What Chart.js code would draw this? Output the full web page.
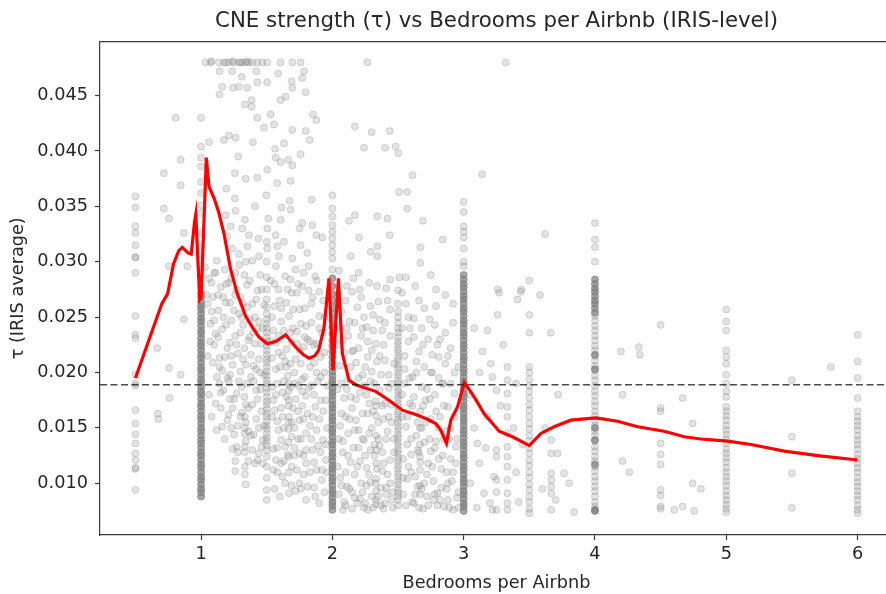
<!DOCTYPE html>
<html>
<head>
<meta charset="utf-8">
<script src="https://cdn.jsdelivr.net/npm/chart.js@4"></script>
<style>
  html, body { margin: 0; padding: 0; background: #fff; overflow: hidden; }
  #wrap { width: 900px; height: 594px; }
  #chartCanvas { filter: blur(0.4px); }
</style>
</head>
<body>
<div id="wrap"><canvas id="chartCanvas" width="900" height="594"></canvas></div>
<script>
// Axis limits and ticks
const X_MIN = 0.23, X_MAX = 6.27;
const Y_MIN = 0.00533, Y_MAX = 0.04988;
const xTickVals = [1, 2, 3, 4, 5, 6];
const yTickVals = [0.010, 0.015, 0.020, 0.025, 0.030, 0.035, 0.040, 0.045];
const tauRef = 0.0189;

// Smoothed (red) curve
const lowessX = [0.500, 0.700, 0.745, 0.790, 0.830, 0.857, 0.900, 0.925, 0.950, 0.960, 0.972, 0.990, 1.000, 1.020, 1.040, 1.060, 1.100, 1.136, 1.175, 1.225, 1.276, 1.339, 1.390, 1.441, 1.505, 1.568, 1.644, 1.720, 1.780, 1.822, 1.865, 1.895, 1.936, 1.974, 2.005, 2.046, 2.076, 2.127, 2.178, 2.250, 2.330, 2.431, 2.533, 2.635, 2.720, 2.787, 2.825, 2.869, 2.902, 2.953, 3.005, 3.080, 3.155, 3.270, 3.372, 3.500, 3.588, 3.689, 3.816, 4.007, 4.172, 4.325, 4.527, 4.680, 4.807, 5.011, 5.188, 5.442, 5.697, 6.000];
const lowessY = [0.0195, 0.0262, 0.0271, 0.0298, 0.0310, 0.0313, 0.0308, 0.0307, 0.0336, 0.0343, 0.0310, 0.0266, 0.0268, 0.0330, 0.0394, 0.0368, 0.0357, 0.0344, 0.0325, 0.0293, 0.0271, 0.0251, 0.0241, 0.0232, 0.0226, 0.0228, 0.0234, 0.0223, 0.0216, 0.0213, 0.0215, 0.0220, 0.0240, 0.0285, 0.0202, 0.0285, 0.0217, 0.0193, 0.0189, 0.0186, 0.0183, 0.0175, 0.0166, 0.0162, 0.0158, 0.0154, 0.0148, 0.0136, 0.0157, 0.0169, 0.0191, 0.0178, 0.0163, 0.0147, 0.0142, 0.0134, 0.0145, 0.0151, 0.0157, 0.0159, 0.0156, 0.0151, 0.0147, 0.0142, 0.0140, 0.0138, 0.0135, 0.0129, 0.0125, 0.0121];

// Dense stacks at whole-bedroom values
const col1Y = [0.0088, 0.0092, 0.0095, 0.0099, 0.0103, 0.0106, 0.0110, 0.0114, 0.0117, 0.0121, 0.0125, 0.0128, 0.0132, 0.0136, 0.0139, 0.0143, 0.0147, 0.0150, 0.0154, 0.0158, 0.0161, 0.0165, 0.0169, 0.0172, 0.0176, 0.0180, 0.0183, 0.0187, 0.0191, 0.0194, 0.0198, 0.0202, 0.0205, 0.0209, 0.0213, 0.0216, 0.0220, 0.0224, 0.0227, 0.0231, 0.0235, 0.0238, 0.0242, 0.0246, 0.0249, 0.0253, 0.0257, 0.0260, 0.0264, 0.0268, 0.0271];
const col2Y = [0.0076, 0.0080, 0.0083, 0.0087, 0.0091, 0.0094, 0.0098, 0.0102, 0.0105, 0.0109, 0.0113, 0.0116, 0.0120, 0.0124, 0.0127, 0.0131, 0.0135, 0.0138, 0.0142, 0.0146, 0.0149, 0.0153, 0.0157, 0.0160, 0.0164, 0.0168, 0.0171, 0.0175, 0.0179, 0.0182, 0.0186, 0.0190, 0.0193, 0.0197, 0.0201, 0.0205, 0.0209, 0.0214, 0.0219, 0.0224, 0.0229, 0.0235, 0.0241, 0.0247, 0.0253, 0.0259, 0.0265, 0.0271, 0.0278, 0.0285];
const col3Y = [0.0075, 0.0079, 0.0082, 0.0086, 0.0090, 0.0093, 0.0097, 0.0101, 0.0104, 0.0108, 0.0112, 0.0115, 0.0119, 0.0123, 0.0126, 0.0130, 0.0134, 0.0137, 0.0141, 0.0145, 0.0148, 0.0152, 0.0156, 0.0159, 0.0163, 0.0167, 0.0170, 0.0174, 0.0178, 0.0181, 0.0185, 0.0189, 0.0192, 0.0196, 0.0200, 0.0203, 0.0207, 0.0211, 0.0214, 0.0218, 0.0222, 0.0225, 0.0229, 0.0233, 0.0236, 0.0240, 0.0244, 0.0247, 0.0251, 0.0255, 0.0258, 0.0262, 0.0266, 0.0269, 0.0273, 0.0277, 0.0280, 0.0284, 0.0288];
const col4Y = [0.0254, 0.0258, 0.0262, 0.0265, 0.0269, 0.0273, 0.0276, 0.0280, 0.0284, 0.0216, 0.0203, 0.0150, 0.0139, 0.0117, 0.0075, 0.0076];

// Lighter stacks
const colHalfY = [0.0359, 0.0349, 0.0332, 0.0326, 0.0315, 0.0304, 0.0304, 0.0290, 0.0251, 0.0234, 0.0231, 0.0198, 0.0190, 0.0188, 0.0166, 0.0154, 0.0144, 0.0136, 0.0127, 0.0121, 0.0114, 0.0113, 0.0094];
const col1TopY = [0.0278, 0.0287, 0.0296, 0.0305, 0.0314, 0.0326, 0.0344, 0.0351, 0.0362, 0.0372, 0.0386, 0.0394, 0.0404, 0.0430];
const col1p5Y = [0.0085, 0.0094, 0.0105, 0.0115, 0.0124, 0.0130, 0.0134, 0.0138, 0.0141, 0.0145, 0.0149, 0.0152, 0.0156, 0.0160, 0.0163, 0.0167, 0.0171, 0.0174, 0.0178, 0.0182, 0.0186, 0.0190, 0.0193, 0.0197, 0.0201, 0.0205, 0.0209, 0.0212, 0.0216, 0.0220, 0.0224, 0.0228, 0.0232, 0.0236, 0.0240, 0.0244, 0.0248, 0.0253, 0.0259, 0.0266, 0.0275, 0.0286, 0.0300, 0.0318];
const col2TopY = [0.0293, 0.0303, 0.0309, 0.0315, 0.0321, 0.0327, 0.0333, 0.0341, 0.0348, 0.0360];
const col2p5Y = [0.0080, 0.0085, 0.0088, 0.0092, 0.0095, 0.0099, 0.0102, 0.0106, 0.0109, 0.0113, 0.0116, 0.0120, 0.0123, 0.0127, 0.0130, 0.0134, 0.0137, 0.0141, 0.0144, 0.0148, 0.0151, 0.0155, 0.0158, 0.0162, 0.0165, 0.0169, 0.0172, 0.0176, 0.0179, 0.0183, 0.0186, 0.0190, 0.0193, 0.0197, 0.0200, 0.0204, 0.0207, 0.0211, 0.0214, 0.0218, 0.0221, 0.0225, 0.0228, 0.0232, 0.0236, 0.0240, 0.0245, 0.0250, 0.0255, 0.0262, 0.0274];
const col3TopY = [0.0296, 0.0300, 0.0312, 0.0322, 0.0327, 0.0332, 0.0345, 0.0354];
const col3p5Y = [0.0073, 0.0077, 0.0083, 0.0088, 0.0094, 0.0099, 0.0105, 0.0110, 0.0116, 0.0121, 0.0127, 0.0132, 0.0138, 0.0143, 0.0149, 0.0154, 0.0160, 0.0166, 0.0171, 0.0177, 0.0183, 0.0188, 0.0194, 0.0200, 0.0205, 0.0236, 0.0252];
const col4MidY = [0.0079, 0.0083, 0.0088, 0.0093, 0.0097, 0.0102, 0.0106, 0.0111, 0.0115, 0.0120, 0.0124, 0.0129, 0.0133, 0.0138, 0.0143, 0.0147, 0.0152, 0.0156, 0.0161, 0.0165, 0.0170, 0.0174, 0.0179, 0.0183, 0.0188, 0.0193, 0.0197, 0.0202, 0.0206, 0.0211, 0.0215, 0.0220, 0.0224, 0.0229, 0.0233, 0.0238, 0.0242, 0.0247, 0.0251, 0.0300, 0.0313, 0.0320, 0.0335];
const col4p5Y = [0.0243, 0.0168, 0.0165, 0.0136, 0.0126, 0.0117, 0.0094, 0.0089, 0.0079, 0.0077];
const col5Y = [0.0257, 0.0246, 0.0238, 0.0220, 0.0214, 0.0208, 0.0198, 0.0190, 0.0183, 0.0178, 0.0169, 0.0165, 0.0161, 0.0157, 0.0152, 0.0148, 0.0144, 0.0140, 0.0136, 0.0131, 0.0127, 0.0123, 0.0119, 0.0114, 0.0110, 0.0106, 0.0102, 0.0098, 0.0093, 0.0089, 0.0085, 0.0081, 0.0077, 0.0074];
const col5p5Y = [0.0193, 0.0142, 0.0109, 0.0078];
const col6Y = [0.0234, 0.0210, 0.0195, 0.0177, 0.0165, 0.0160, 0.0156, 0.0152, 0.0148, 0.0143, 0.0139, 0.0135, 0.0131, 0.0126, 0.0122, 0.0118, 0.0114, 0.0110, 0.0105, 0.0101, 0.0097, 0.0093, 0.0089, 0.0085, 0.0080, 0.0076, 0.0073];
const colThirdsX = [1.333, 1.667, 2.333, 2.667, 3.25, 3.333, 3.667];
const colThirdsY = [
  [0.0160, 0.0150, 0.0145, 0.0133, 0.0128, 0.0115, 0.0108],
  [0.0190, 0.0184, 0.0175, 0.0170, 0.0155, 0.0149, 0.0137, 0.0124],
  [0.0170, 0.0161, 0.0143, 0.0130, 0.0118, 0.0104, 0.0093, 0.0085],
  [0.0150, 0.0135, 0.0124, 0.0112, 0.0098, 0.0090],
  [0.0184, 0.0130, 0.0124, 0.0103, 0.0092, 0.0076],
  [0.0205, 0.0193, 0.0181, 0.0169, 0.0160, 0.0145, 0.0133, 0.0124, 0.0115, 0.0103, 0.0091, 0.0082, 0.0076],
  [0.0139, 0.0127, 0.0109, 0.0103, 0.0097, 0.0091, 0.0076]
];

// Scattered IRIS points [bedrooms, tau]
const cloudPts = [
  [0.666, 0.0222], [0.755, 0.0204], [0.760, 0.0177], [0.671, 0.0163], [0.675, 0.0158], [0.844, 0.0198], [0.869, 0.0248], [0.716, 0.0380], [0.844, 0.0369], [0.806, 0.0430], [0.844, 0.0392], [0.716, 0.0348], [0.755, 0.0339], [0.869, 0.0326], [0.755, 0.0296], [0.895, 0.0296],
  [1.034, 0.0480], [1.072, 0.0480], [1.080, 0.0481], [1.136, 0.0480], [1.174, 0.0480], [1.190, 0.0480], [1.212, 0.0480], [1.240, 0.0481], [1.250, 0.0480], [1.288, 0.0480], [1.300, 0.0480], [1.314, 0.0480], [1.339, 0.0480], [1.350, 0.0481], [1.364, 0.0480], [1.390, 0.0480], [1.428, 0.0480], [1.466, 0.0480], [1.504, 0.0480], [1.606, 0.0480], [1.695, 0.0480], [1.758, 0.0480], [2.266, 0.0480], [3.320, 0.0480],
  [1.141, 0.0472], [1.237, 0.0472], [1.420, 0.0472], [1.588, 0.0470], [1.784, 0.0472], [1.309, 0.0467], [1.428, 0.0462], [1.504, 0.0462], [1.690, 0.0463], [1.771, 0.0466], [1.161, 0.0458], [1.243, 0.0457], [1.288, 0.0458], [1.352, 0.0457], [1.141, 0.0451], [1.695, 0.0457], [1.796, 0.0453], [1.644, 0.0449], [1.606, 0.0446], [1.385, 0.0446], [1.334, 0.0442], [1.385, 0.0440], [1.428, 0.0430], [1.530, 0.0433], [1.555, 0.0424], [1.479, 0.0421], [1.852, 0.0433], [1.878, 0.0428], [1.695, 0.0419], [1.796, 0.0418], [2.172, 0.0422], [2.299, 0.0417], [2.437, 0.0418], [1.212, 0.0414], [1.174, 0.0410], [1.263, 0.0412], [1.060, 0.0408], [1.395, 0.0408], [1.631, 0.0407], [1.827, 0.0410], [1.563, 0.0402], [2.241, 0.0403], [2.401, 0.0403], [2.482, 0.0404], [2.503, 0.0398],
  [1.283, 0.0395], [1.568, 0.0394], [1.606, 0.0390], [1.664, 0.0392], [1.695, 0.0387], [1.758, 0.0397], [1.258, 0.0380], [1.339, 0.0375], [1.428, 0.0376], [1.504, 0.0383], [1.580, 0.0371], [1.682, 0.0373], [1.192, 0.0366], [1.258, 0.0357], [1.497, 0.0360], [1.674, 0.0355], [1.842, 0.0356], [2.508, 0.0363], [1.410, 0.0350], [1.613, 0.0349], [1.263, 0.0346], [1.682, 0.0347], [1.187, 0.0342], [1.334, 0.0338], [1.512, 0.0339], [1.606, 0.0338], [1.771, 0.0335], [1.847, 0.0333], [2.172, 0.0342], [2.342, 0.0341], [2.419, 0.0339], [2.127, 0.0337], [1.225, 0.0332], [1.314, 0.0330], [1.504, 0.0330], [1.751, 0.0330], [1.878, 0.0324], [1.923, 0.0322], [2.203, 0.0322], [2.437, 0.0324], [1.199, 0.0323], [1.364, 0.0324], [1.436, 0.0321], [1.568, 0.0324], [1.631, 0.0318], [1.352, 0.0314], [1.504, 0.0312], [1.580, 0.0314], [1.758, 0.0315], [1.809, 0.0308], [2.342, 0.0314], [2.292, 0.0309], [2.342, 0.0305], [1.237, 0.0312], [1.288, 0.0307], [1.441, 0.0305], [1.593, 0.0305], [1.695, 0.0303],
  [2.570, 0.0363], [2.570, 0.0348], [2.610, 0.0378], [3.140, 0.0379], [2.690, 0.0337], [2.840, 0.0320], [2.670, 0.0313], [2.670, 0.0299], [3.620, 0.0325], [3.500, 0.0283], [2.510, 0.0286], [2.440, 0.0284], [2.790, 0.0275], [3.260, 0.0275], [3.440, 0.0275], [2.140, 0.0305], [2.200, 0.0290],
  [1.13, 0.0232], [1.22, 0.0227], [1.30, 0.0236], [1.16, 0.0202], [1.22, 0.0198], [1.34, 0.0207], [1.40, 0.0192], [1.15, 0.0182], [1.22, 0.0176], [1.34, 0.0171], [1.43, 0.0176], [1.21, 0.0162], [1.34, 0.0155], [1.16, 0.0151], [1.25, 0.0144], [1.40, 0.0144], [1.34, 0.0138], [1.27, 0.0133], [1.44, 0.0127], [1.26, 0.0120], [1.36, 0.0120], [1.26, 0.0111], [1.34, 0.0099], [1.43, 0.0121],
  [1.03, 0.0295], [1.05, 0.0262], [1.07, 0.0228], [1.08, 0.0281], [1.09, 0.0209], [1.10, 0.0247], [1.11, 0.0172], [1.12, 0.0301], [1.14, 0.0190], [1.17, 0.0268], [1.18, 0.0293], [1.19, 0.0243], [1.20, 0.0157], [1.23, 0.0285], [1.24, 0.0131], [1.25, 0.0256], [1.28, 0.0217], [1.29, 0.0297], [1.31, 0.0187], [1.32, 0.0262], [1.33, 0.0288], [1.35, 0.0279], [1.37, 0.0248], [1.38, 0.0196], [1.39, 0.0301], [1.41, 0.0226], [1.42, 0.0266], [1.44, 0.0212], [1.45, 0.0288], [1.46, 0.0165], [1.47, 0.0240], [1.47, 0.0139], [1.29, 0.0253], [1.36, 0.0229], [1.27, 0.0275], [1.41, 0.0250], [1.18, 0.0214], [1.12, 0.0196],
  [1.57, 0.0296], [1.64, 0.0287], [1.72, 0.0293], [1.59, 0.0275], [1.69, 0.0272], [1.77, 0.0278], [1.56, 0.0260], [1.67, 0.0251], [1.75, 0.0257], [1.80, 0.0242], [1.59, 0.0233], [1.69, 0.0227], [1.62, 0.0215], [1.72, 0.0212], [1.57, 0.0203], [1.66, 0.0197], [1.77, 0.0194], [1.62, 0.0182], [1.72, 0.0176], [1.80, 0.0179], [1.56, 0.0166], [1.67, 0.0160], [1.75, 0.0157], [1.59, 0.0148], [1.69, 0.0142], [1.80, 0.0145], [1.64, 0.0133], [1.75, 0.0127], [1.57, 0.0121], [1.69, 0.0115], [1.80, 0.0118], [1.62, 0.0106], [1.75, 0.0100], [1.67, 0.0091], [1.80, 0.0085], [1.55, 0.0238], [1.61, 0.0246], [1.73, 0.0237], [1.78, 0.0223], [1.65, 0.0205], [1.54, 0.0187], [1.74, 0.0165], [1.61, 0.0139], [1.71, 0.0132], [1.78, 0.0108], [1.58, 0.0110], [1.72, 0.0093],
  [1.82, 0.0296], [1.85, 0.0268], [1.88, 0.0283], [1.90, 0.0251], [1.83, 0.0228], [1.92, 0.0236], [1.86, 0.0209], [1.94, 0.0218], [1.84, 0.0188], [1.91, 0.0196], [1.87, 0.0169], [1.95, 0.0175], [1.83, 0.0152], [1.90, 0.0158], [1.93, 0.0139], [1.85, 0.0130], [1.88, 0.0112], [1.95, 0.0121], [1.86, 0.0096], [1.92, 0.0103], [1.90, 0.0082], [1.93, 0.0265], [1.96, 0.0150],
  [2.05, 0.0292], [2.11, 0.0278], [2.16, 0.0285], [2.22, 0.0268], [2.28, 0.0281], [2.35, 0.0264], [2.41, 0.0276], [2.07, 0.0255], [2.13, 0.0246], [2.19, 0.0259], [2.26, 0.0241], [2.31, 0.0252], [2.38, 0.0238], [2.44, 0.0257], [2.08, 0.0229], [2.15, 0.0219], [2.22, 0.0233], [2.27, 0.0214], [2.33, 0.0226], [2.40, 0.0211], [2.06, 0.0206], [2.12, 0.0194], [2.18, 0.0209], [2.24, 0.0188], [2.30, 0.0201], [2.36, 0.0184], [2.43, 0.0198], [2.09, 0.0177], [2.15, 0.0168], [2.21, 0.0182], [2.27, 0.0163], [2.33, 0.0174], [2.39, 0.0158], [2.45, 0.0171], [2.06, 0.0152], [2.12, 0.0145], [2.18, 0.0157], [2.24, 0.0139], [2.30, 0.0150], [2.36, 0.0134], [2.42, 0.0147], [2.08, 0.0128], [2.14, 0.0119], [2.20, 0.0132], [2.26, 0.0114], [2.32, 0.0125], [2.38, 0.0111], [2.44, 0.0121], [2.06, 0.0105], [2.11, 0.0097], [2.17, 0.0108], [2.23, 0.0092], [2.29, 0.0101], [2.35, 0.0088], [2.41, 0.0096], [2.09, 0.0083], [2.15, 0.0077], [2.21, 0.0086], [2.27, 0.0076], [2.33, 0.0081], [2.39, 0.0077], [2.45, 0.0085],
  [2.56, 0.0262], [2.62, 0.0249], [2.70, 0.0258], [2.78, 0.0243], [2.86, 0.0236], [2.58, 0.0228], [2.66, 0.0219], [2.73, 0.0230], [2.81, 0.0214], [2.90, 0.0222], [2.55, 0.0203], [2.61, 0.0196], [2.68, 0.0187], [2.76, 0.0200], [2.84, 0.0190], [2.93, 0.0181], [2.59, 0.0172], [2.67, 0.0165], [2.74, 0.0176], [2.82, 0.0160], [2.88, 0.0169], [2.56, 0.0151], [2.64, 0.0143], [2.71, 0.0155], [2.79, 0.0138], [2.86, 0.0147], [2.94, 0.0133], [2.60, 0.0126], [2.67, 0.0119], [2.75, 0.0129], [2.83, 0.0113], [2.90, 0.0122], [2.57, 0.0104], [2.65, 0.0097], [2.72, 0.0108], [2.80, 0.0091], [2.88, 0.0100], [2.95, 0.0087], [2.62, 0.0082], [2.69, 0.0077], [2.77, 0.0085], [2.85, 0.0079], [2.92, 0.0076], [2.56, 0.0286], [2.63, 0.0278], [2.75, 0.0288], [2.86, 0.0270], [2.92, 0.0262], [2.53, 0.0272],
  [3.105, 0.0136], [3.168, 0.0132], [3.258, 0.0252], [3.270, 0.0272], [3.410, 0.0266], [3.435, 0.0273], [3.582, 0.0270], [3.664, 0.0236], [3.715, 0.0127], [3.765, 0.0109], [3.803, 0.0100], [3.841, 0.0074], [3.207, 0.0208], [3.143, 0.0219], [3.181, 0.0238], [3.219, 0.0196], [3.232, 0.0106], [3.219, 0.0076], [3.155, 0.0091],
  [4.197, 0.0219], [4.210, 0.0180], [4.335, 0.0223], [4.342, 0.0216], [4.668, 0.0177], [4.744, 0.0154], [4.210, 0.0120], [4.261, 0.0110], [4.744, 0.0100], [4.807, 0.0095], [4.604, 0.0076], [4.668, 0.0079], [4.756, 0.0075], [5.797, 0.0205]
];

// Second pass of readings, filling the thick part of the cloud
const cloudPts2 = [
  [1.06, 0.0285], [1.07, 0.0244], [1.09, 0.0268], [1.10, 0.0225], [1.11, 0.0290], [1.13, 0.0256], [1.14, 0.0213], [1.15, 0.0277], [1.16, 0.0239], [1.17, 0.0184], [1.19, 0.0263], [1.20, 0.0222], [1.21, 0.0281], [1.21, 0.0192], [1.23, 0.0247], [1.24, 0.0207], [1.24, 0.0168], [1.26, 0.0290], [1.26, 0.0233], [1.27, 0.0181], [1.28, 0.0152], [1.30, 0.0268], [1.30, 0.0201], [1.31, 0.0164], [1.32, 0.0243], [1.33, 0.0222], [1.35, 0.0259], [1.35, 0.0190], [1.36, 0.0147], [1.37, 0.0283], [1.38, 0.0216], [1.39, 0.0171], [1.39, 0.0130], [1.40, 0.0236], [1.42, 0.0203], [1.42, 0.0158], [1.43, 0.0274], [1.44, 0.0246], [1.45, 0.0185], [1.46, 0.0226], [1.46, 0.0133], [1.48, 0.0198], [1.48, 0.0261], [1.48, 0.0152],
  [1.53, 0.0283], [1.54, 0.0250], [1.54, 0.0213], [1.55, 0.0175], [1.55, 0.0131], [1.56, 0.0095], [1.57, 0.0227], [1.58, 0.0190], [1.58, 0.0156], [1.60, 0.0265], [1.60, 0.0205], [1.61, 0.0168], [1.61, 0.0118], [1.63, 0.0238], [1.63, 0.0192], [1.63, 0.0150], [1.64, 0.0100], [1.65, 0.0263], [1.65, 0.0221], [1.66, 0.0126], [1.68, 0.0284], [1.68, 0.0236], [1.68, 0.0187], [1.69, 0.0098], [1.70, 0.0257], [1.70, 0.0168], [1.71, 0.0200], [1.71, 0.0150], [1.73, 0.0272], [1.73, 0.0226], [1.73, 0.0112], [1.74, 0.0188], [1.76, 0.0244], [1.76, 0.0208], [1.76, 0.0140], [1.77, 0.0170], [1.78, 0.0290], [1.78, 0.0125], [1.79, 0.0258], [1.79, 0.0196], [1.81, 0.0230], [1.81, 0.0163], [1.81, 0.0097], [1.82, 0.0274], [1.83, 0.0205], [1.84, 0.0140], [1.84, 0.0245], [1.86, 0.0180], [1.86, 0.0119], [1.87, 0.0287], [1.88, 0.0226], [1.88, 0.0148], [1.89, 0.0192], [1.90, 0.0273], [1.91, 0.0128], [1.91, 0.0214], [1.93, 0.0165], [1.94, 0.0250], [1.94, 0.0092], [1.96, 0.0188], [1.96, 0.0110],
  [2.04, 0.0270], [2.04, 0.0185], [2.04, 0.0115], [2.05, 0.0090], [2.06, 0.0240], [2.07, 0.0163], [2.08, 0.0138], [2.09, 0.0218], [2.10, 0.0265], [2.10, 0.0110], [2.10, 0.0080], [2.11, 0.0185], [2.12, 0.0233], [2.13, 0.0158], [2.13, 0.0095], [2.14, 0.0205], [2.15, 0.0273], [2.16, 0.0132], [2.17, 0.0245], [2.17, 0.0087], [2.18, 0.0176], [2.19, 0.0115], [2.20, 0.0222], [2.20, 0.0148], [2.21, 0.0275], [2.22, 0.0100], [2.23, 0.0198], [2.23, 0.0163], [2.24, 0.0250], [2.25, 0.0125], [2.25, 0.0082], [2.26, 0.0180], [2.27, 0.0228], [2.28, 0.0145], [2.28, 0.0108], [2.29, 0.0260], [2.29, 0.0192], [2.30, 0.0088], [2.31, 0.0165], [2.31, 0.0238], [2.32, 0.0135], [2.34, 0.0210], [2.34, 0.0113], [2.34, 0.0278], [2.35, 0.0155], [2.36, 0.0248], [2.37, 0.0096], [2.37, 0.0198], [2.38, 0.0128], [2.39, 0.0225], [2.40, 0.0172], [2.40, 0.0082], [2.41, 0.0140], [2.42, 0.0265], [2.42, 0.0108], [2.43, 0.0186], [2.44, 0.0233], [2.45, 0.0155], [2.46, 0.0092], [2.47, 0.0208], [2.47, 0.0128],
  [2.53, 0.0240], [2.53, 0.0180], [2.54, 0.0122], [2.54, 0.0090], [2.55, 0.0215], [2.57, 0.0160], [2.58, 0.0250], [2.58, 0.0115], [2.59, 0.0195], [2.60, 0.0140], [2.61, 0.0083], [2.62, 0.0232], [2.62, 0.0178], [2.63, 0.0106], [2.64, 0.0210], [2.65, 0.0155], [2.66, 0.0265], [2.66, 0.0128], [2.68, 0.0240], [2.68, 0.0095], [2.69, 0.0170], [2.70, 0.0205], [2.70, 0.0137], [2.72, 0.0185], [2.72, 0.0088], [2.73, 0.0118], [2.74, 0.0248], [2.75, 0.0158], [2.76, 0.0216], [2.77, 0.0102], [2.78, 0.0180], [2.78, 0.0132], [2.79, 0.0260], [2.80, 0.0080], [2.81, 0.0195], [2.81, 0.0150], [2.82, 0.0230], [2.83, 0.0096], [2.84, 0.0125], [2.85, 0.0170], [2.86, 0.0208], [2.87, 0.0110], [2.88, 0.0085], [2.89, 0.0140], [2.90, 0.0190], [2.91, 0.0102], [2.92, 0.0245], [2.93, 0.0160], [2.94, 0.0118], [2.96, 0.0205], [2.96, 0.0092],
  [3.05, 0.0180], [3.05, 0.0100], [3.08, 0.0240], [3.08, 0.0150], [3.10, 0.0078], [3.12, 0.0200], [3.12, 0.0118], [3.18, 0.0160], [3.20, 0.0082], [3.28, 0.0170], [3.30, 0.0225], [3.38, 0.0150], [3.40, 0.0110], [3.40, 0.0190], [3.42, 0.0083], [3.45, 0.0135], [3.60, 0.0095], [3.62, 0.0150], [3.70, 0.0085], [3.72, 0.0180]
];

// Third pass, thickest area between 1 and 3 bedrooms
const cloudPts3 = [
  [1.04, 0.0270], [1.05, 0.0215], [1.06, 0.0180], [1.08, 0.0255], [1.08, 0.0160], [1.10, 0.0290], [1.11, 0.0235], [1.12, 0.0148], [1.13, 0.0270], [1.14, 0.0205], [1.15, 0.0168], [1.17, 0.0250], [1.18, 0.0140], [1.19, 0.0280], [1.20, 0.0195], [1.22, 0.0263], [1.23, 0.0150], [1.23, 0.0215], [1.25, 0.0176], [1.26, 0.0270], [1.27, 0.0225], [1.28, 0.0128], [1.29, 0.0192], [1.30, 0.0160], [1.31, 0.0250], [1.32, 0.0212], [1.33, 0.0178], [1.34, 0.0300], [1.36, 0.0168], [1.37, 0.0232], [1.38, 0.0143], [1.39, 0.0262], [1.40, 0.0206], [1.41, 0.0118], [1.42, 0.0184], [1.43, 0.0240], [1.44, 0.0150], [1.45, 0.0200], [1.46, 0.0275], [1.47, 0.0118],
  [1.53, 0.0228], [1.54, 0.0160], [1.55, 0.0112], [1.56, 0.0280], [1.57, 0.0180], [1.58, 0.0132], [1.59, 0.0218], [1.60, 0.0088], [1.61, 0.0258], [1.62, 0.0160], [1.63, 0.0120], [1.64, 0.0210], [1.65, 0.0178], [1.66, 0.0275], [1.67, 0.0110], [1.68, 0.0208], [1.69, 0.0155], [1.70, 0.0240], [1.71, 0.0125], [1.72, 0.0190], [1.74, 0.0280], [1.74, 0.0140], [1.75, 0.0220], [1.76, 0.0095], [1.77, 0.0183], [1.78, 0.0158], [1.79, 0.0232], [1.80, 0.0130], [1.82, 0.0186], [1.83, 0.0110], [1.84, 0.0262], [1.85, 0.0160], [1.86, 0.0225], [1.87, 0.0088], [1.88, 0.0200], [1.89, 0.0134], [1.90, 0.0240], [1.91, 0.0175], [1.92, 0.0112], [1.94, 0.0200], [1.95, 0.0135],
  [2.04, 0.0225], [2.05, 0.0140], [2.07, 0.0190], [2.07, 0.0098], [2.08, 0.0076], [2.10, 0.0160], [2.11, 0.0240], [2.12, 0.0125], [2.14, 0.0178], [2.15, 0.0092], [2.16, 0.0220], [2.17, 0.0148], [2.19, 0.0082], [2.20, 0.0195], [2.21, 0.0120], [2.23, 0.0240], [2.23, 0.0140], [2.24, 0.0078], [2.25, 0.0205], [2.26, 0.0098], [2.28, 0.0172], [2.29, 0.0130], [2.30, 0.0220], [2.31, 0.0078], [2.32, 0.0190], [2.33, 0.0100], [2.35, 0.0140], [2.36, 0.0215], [2.37, 0.0080], [2.38, 0.0170], [2.39, 0.0118], [2.40, 0.0245], [2.41, 0.0090], [2.43, 0.0160], [2.44, 0.0100], [2.45, 0.0190], [2.46, 0.0078], [2.47, 0.0140],
  [2.53, 0.0160], [2.54, 0.0105], [2.55, 0.0190], [2.56, 0.0080], [2.57, 0.0135], [2.59, 0.0240], [2.60, 0.0110], [2.61, 0.0170], [2.63, 0.0090], [2.64, 0.0200], [2.65, 0.0130], [2.66, 0.0078], [2.68, 0.0150], [2.69, 0.0225], [2.70, 0.0100], [2.71, 0.0175], [2.73, 0.0080], [2.74, 0.0140], [2.75, 0.0200], [2.76, 0.0115], [2.78, 0.0090], [2.79, 0.0165], [2.80, 0.0225], [2.81, 0.0122], [2.82, 0.0085], [2.84, 0.0190], [2.85, 0.0140], [2.87, 0.0095], [2.88, 0.0215], [2.89, 0.0078], [2.90, 0.0150], [2.92, 0.0110], [2.93, 0.0200], [2.95, 0.0140], [2.96, 0.0078]
];

// Build point lists
const lightColumns = [
  [0.5, colHalfY], [1, col1TopY], [1.5, col1p5Y], [2, col2TopY], [2.5, col2p5Y], [3, col3TopY], [3.5, col3p5Y],
  [4, col4MidY], [4.5, col4p5Y], [5, col5Y], [5.5, col5p5Y], [6, col6Y]
];
const denseColumns = [[1, col1Y], [2, col2Y], [3, col3Y], [4, col4Y]];

const lightPts = cloudPts.concat(cloudPts2, cloudPts3).map(([x, y]) => ({ x, y }));
lightColumns.forEach(([x, ys]) => ys.forEach(y => lightPts.push({ x, y })));
colThirdsX.forEach((x, i) => colThirdsY[i].forEach(y => lightPts.push({ x, y })));
const densePts = [];
denseColumns.forEach(([x, ys]) => ys.forEach(y => densePts.push({ x, y })));

const FONT = 'DejaVu Sans';
const TEXT = '#262626';
const SPINE = '#3a3a3a';

// top + right spines
const framePlugin = {
  id: 'frame',
  afterDraw(chart) {
    const { ctx, chartArea: a } = chart;
    ctx.save();
    ctx.strokeStyle = SPINE;
    ctx.lineWidth = 1.2;
    ctx.beginPath();
    ctx.moveTo(a.left, a.top);
    ctx.lineTo(a.right, a.top);
    ctx.lineTo(a.right, a.bottom);
    ctx.stroke();
    ctx.restore();
  }
};

const ctx = document.getElementById('chartCanvas').getContext('2d');
new Chart(ctx, {
  type: 'scatter',
  data: {
    datasets: [
      {
        label: 'mean tau',
        type: 'line',
        data: [{ x: X_MIN, y: tauRef }, { x: X_MAX, y: tauRef }],
        borderColor: 'rgba(30,30,30,0.8)',
        borderWidth: 1.5,
        borderDash: [7, 3.5],
        pointRadius: 0,
        order: 0
      },
      {
        label: 'LOWESS',
        type: 'line',
        data: lowessX.map((x, i) => ({ x, y: lowessY[i] })),
        borderColor: '#ff0000',
        borderWidth: 3.2,
        pointRadius: 0,
        tension: 0,
        order: 1
      },
      {
        label: 'stacks',
        data: densePts,
        backgroundColor: 'rgba(128,128,128,0.7)',
        borderColor: 'rgba(128,128,128,0.7)',
        borderWidth: 1,
        pointRadius: 3.5,
        order: 2
      },
      {
        label: 'IRIS',
        data: lightPts,
        backgroundColor: 'rgba(128,128,128,0.22)',
        borderColor: 'rgba(128,128,128,0.28)',
        borderWidth: 1,
        pointRadius: 3.5,
        order: 3
      }
    ]
  },
  options: {
    responsive: false,
    animation: false,
    devicePixelRatio: 1,
    layout: { padding: { left: 0, right: 7, top: 0, bottom: 0 } },
    plugins: {
      legend: { display: false },
      tooltip: { enabled: false },
      title: {
        display: true,
        fullSize: false,
        text: 'CNE strength (τ) vs Bedrooms per Airbnb (IRIS-level)',
        color: TEXT,
        font: { family: FONT, size: 21.3, weight: 'normal', lineHeight: 1.2 },
        padding: { top: 9, bottom: 7 }
      }
    },
    scales: {
      x: {
        type: 'linear',
        min: X_MIN,
        max: X_MAX,
        afterBuildTicks: s => { s.ticks = xTickVals.map(v => ({ value: v })); },
        afterFit: s => { s.height = 59; },
        ticks: { color: TEXT, font: { family: FONT, size: 17.7 }, padding: 4, callback: v => String(v) },
        grid: { drawOnChartArea: false, tickLength: 5, color: SPINE, tickWidth: 1.2 },
        border: { color: SPINE, width: 1.2 },
        title: { display: true, text: 'Bedrooms per Airbnb', color: TEXT, font: { family: FONT, size: 17.7, lineHeight: 1.2 }, padding: { top: 0, bottom: 0 } }
      },
      y: {
        type: 'linear',
        min: Y_MIN,
        max: Y_MAX,
        afterBuildTicks: s => { s.ticks = yTickVals.map(v => ({ value: v })); },
        afterFit: s => { s.width = 100; },
        ticks: { color: TEXT, font: { family: FONT, size: 17.7 }, padding: 7, callback: v => v.toFixed(3) },
        grid: { drawOnChartArea: false, tickLength: 5, color: SPINE, tickWidth: 1.2 },
        border: { color: SPINE, width: 1.2 },
        title: { display: true, text: 'τ (IRIS average)', color: TEXT, font: { family: FONT, size: 17.7, lineHeight: 1.2 }, padding: { top: 8, bottom: 0 } }
      }
    }
  },
  plugins: [framePlugin]
});
</script>
</body>
</html>
